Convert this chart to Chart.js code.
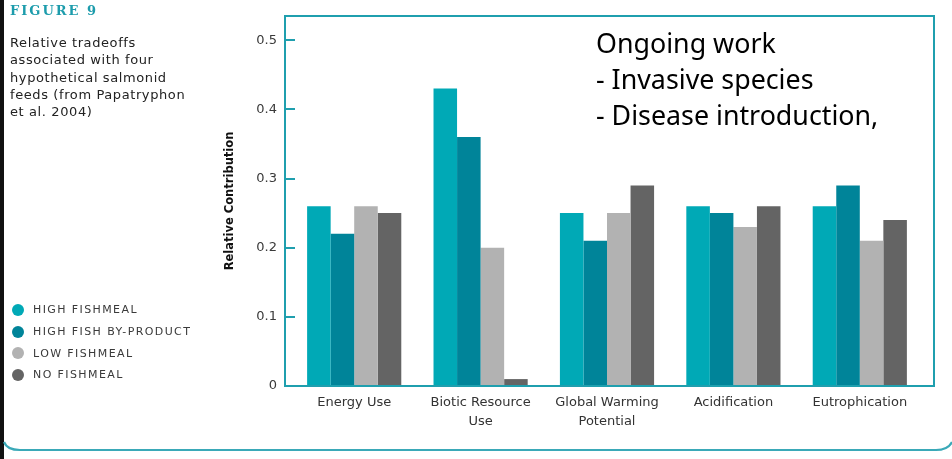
<!DOCTYPE html>
<html>
<head>
<meta charset="utf-8">
<script src="https://cdn.jsdelivr.net/npm/chart.js@4/dist/chart.umd.min.js"></script>
<style>
  html, body { margin: 0; padding: 0; background: #fff; }
  #wrap { position: relative; width: 952px; height: 459px; overflow: hidden; background: #fff; }
  #chart { position: absolute; left: 0; top: 0; }
  .side { position: absolute; left: 0; top: 0; width: 4px; height: 459px; background: #111; }
  .fig { position: absolute; left: 10px; top: 3px; font: bold 13px "DejaVu Serif", "Liberation Serif", serif; letter-spacing: 2px; color: #1d9cac; }
  .desc { position: absolute; left: 10px; top: 34px; font: 13px "DejaVu Sans", sans-serif; letter-spacing: 0.6px; line-height: 17.3px; color: #222; }
  .legend { position: absolute; left: 12px; top: 299px; font: 11px "DejaVu Sans", sans-serif; letter-spacing: 1.4px; color: #3a3a3a; }
  .legend div { height: 21.7px; display: flex; align-items: center; }
  .legend span.dot { display: inline-block; width: 12px; height: 12px; border-radius: 50%; margin-right: 9px; }
  .note { position: absolute; left: 596px; top: 25px; font: 26.8px "Noto Sans", "Open Sans", sans-serif; line-height: 35.8px; color: #000; }
  svg.base { position: absolute; left: 0; top: 0; }
</style>
</head>
<body>
<div id="wrap">
  <canvas id="chart" width="952" height="459"></canvas>
  <div class="side"></div>
  <div class="fig">FIGURE 9</div>
  <div class="desc">Relative tradeoffs<br>associated with four<br>hypothetical salmonid<br>feeds (from Papatryphon<br>et al. 2004)</div>
  <div class="legend" id="legend"></div>
  <div class="note">Ongoing work<br>- Invasive species<br>- Disease introduction,</div>
  <svg class="base" width="952" height="459">
    <path d="M 4 442 Q 7 450 20 450 L 936 450 Q 948 450 952 442" fill="none" stroke="#3aa9b8" stroke-width="2.2"/>
  </svg>
</div>
<script>
// Impact categories and the four feed scenarios
const categories = ['Energy Use', ['Biotic Resource', 'Use'], ['Global Warming', 'Potential'], 'Acidification', 'Eutrophication'];
const seriesNames = ['HIGH FISHMEAL', 'HIGH FISH BY-PRODUCT', 'LOW FISHMEAL', 'NO FISHMEAL'];
const highFishmeal      = [0.26, 0.43, 0.25, 0.26, 0.26];
const highFishByProduct = [0.22, 0.36, 0.21, 0.25, 0.29];
const lowFishmeal       = [0.26, 0.20, 0.25, 0.23, 0.21];
const noFishmeal        = [0.25, 0.01, 0.29, 0.26, 0.24];
const yTicks = [0, 0.1, 0.2, 0.3, 0.4, 0.5];
const yTickLabels = ['0', '0.1', '0.2', '0.3', '0.4', '0.5'];

const colors = ['#00a9b6', '#008499', '#b2b2b2', '#646464'];
const frameColor = '#1f9fae';

// Legend as page text
const legendEl = document.getElementById('legend');
seriesNames.forEach((name, i) => {
  const row = document.createElement('div');
  row.innerHTML = '<span class="dot" style="background:' + colors[i] + '"></span>' + name;
  legendEl.appendChild(row);
});

// Box around the plot with inward-facing y tick marks
const framePlugin = {
  id: 'frame',
  afterDraw(chart) {
    const { ctx, chartArea, scales } = chart;
    const left = chartArea.left - 6, right = chartArea.right + 11;
    const top = chartArea.top, bottom = chartArea.bottom;
    ctx.save();
    ctx.strokeStyle = frameColor;
    ctx.lineWidth = 2;
    ctx.strokeRect(left, top, right - left, bottom - top);
    yTicks.forEach(v => {
      const y = Math.round(scales.y.getPixelForValue(v));
      if (v === 0) return;
      ctx.beginPath();
      ctx.moveTo(left, y);
      ctx.lineTo(left + 10, y);
      ctx.stroke();
    });
    ctx.restore();
  }
};

const data = {
  labels: categories,
  datasets: [highFishmeal, highFishByProduct, lowFishmeal, noFishmeal].map((vals, i) => ({
    label: seriesNames[i],
    data: vals,
    backgroundColor: colors[i],
    borderWidth: 0,
    barPercentage: 1,
    categoryPercentage: 0.745
  }))
};

new Chart(document.getElementById('chart'), {
  type: 'bar',
  data,
  plugins: [framePlugin],
  options: {
    responsive: false,
    animation: false,
    devicePixelRatio: 1,
    layout: { padding: { left: 215, right: 29, top: 16, bottom: 0 } },
    plugins: { legend: { display: false }, tooltip: { enabled: false } },
    scales: {
      x: {
        grid: { display: false, drawTicks: false },
        border: { display: false },
        afterFit(scale) { scale.height = 73; scale.paddingLeft = 0; scale.paddingRight = 0; },
        ticks: {
          padding: 7,
          maxRotation: 0,
          autoSkip: false,
          color: '#333',
          font: { family: 'DejaVu Sans', size: 13, lineHeight: 1.45 }
        }
      },
      y: {
        min: 0,
        max: 0.535,
        grid: { display: false, drawTicks: false },
        border: { display: false },
        afterFit(scale) { scale.width = 76; scale.paddingTop = 0; scale.paddingBottom = 0; },
        afterBuildTicks(scale) { scale.ticks = yTicks.map(v => ({ value: v })); },
        ticks: {
          padding: 14,
          color: '#3a3a3a',
          font: { family: 'DejaVu Sans', size: 13 },
          callback: (v) => yTickLabels[yTicks.indexOf(Math.round(v * 10) / 10)]
        },
        title: {
          display: true,
          text: 'Relative Contribution',
          color: '#111',
          padding: { top: 8, bottom: 0 },
          font: { family: 'DejaVu Sans', size: 11.5, weight: 'bold', lineHeight: 1.2 }
        }
      }
    }
  }
});
</script>
</body>
</html>
